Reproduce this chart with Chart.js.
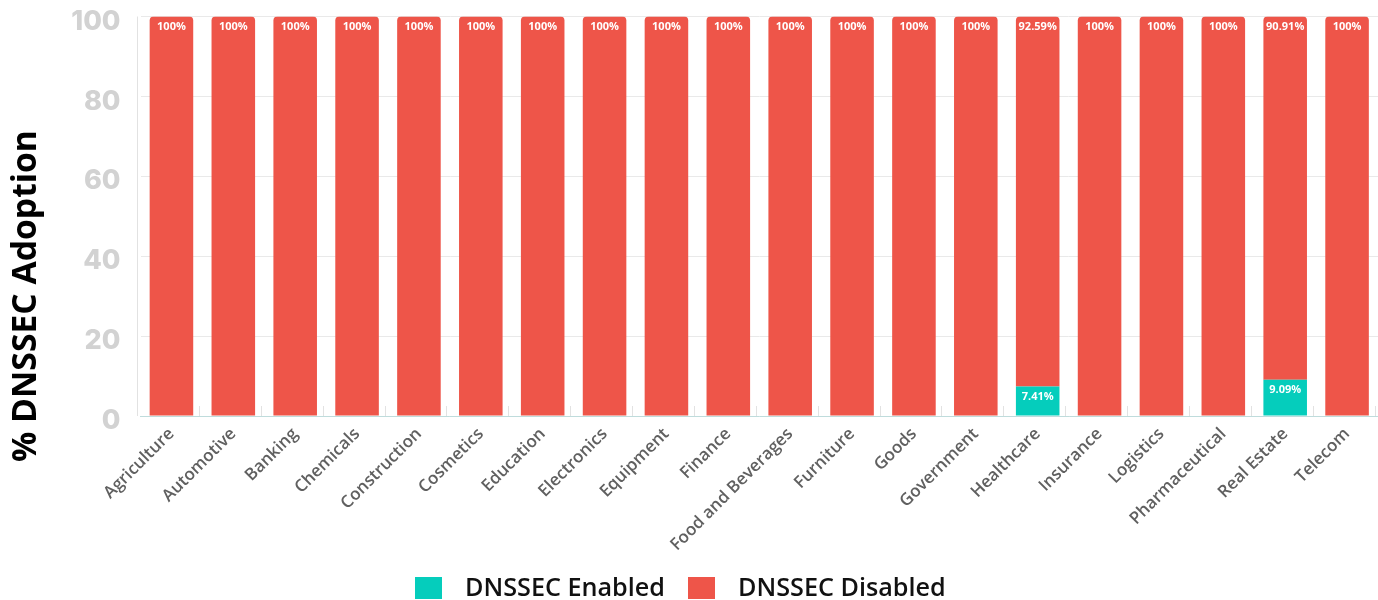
<!DOCTYPE html>
<html>
<head>
<meta charset="utf-8">
<script src="https://cdn.jsdelivr.net/npm/chart.js@4/dist/chart.umd.min.js"></script>
<style>
html,body{margin:0;padding:0;background:#fff;}
#wrap{width:1378px;height:600px;}
</style>
</head>
<body>
<div id="wrap"><canvas id="c" width="1378" height="600"></canvas></div>
<script>
const categories = ["Agriculture","Automotive","Banking","Chemicals","Construction","Cosmetics","Education","Electronics","Equipment","Finance","Food and Beverages","Furniture","Goods","Government","Healthcare","Insurance","Logistics","Pharmaceutical","Real Estate","Telecom"];
const enabledValues = [0,0,0,0,0,0,0,0,0,0,0,0,0,0,7.41,0,0,0,9.09,0];
const disabledValues = [100,100,100,100,100,100,100,100,100,100,100,100,100,100,92.59,100,100,100,90.91,100];
const yTicks = [0,20,40,60,80,100];
const seriesNames = ["DNSSEC Enabled","DNSSEC Disabled"];
const yTitle = "% DNSSEC Adoption";

const TEAL = "#05CDBC";
const RED = "#EE5549";

const decor = {
  id: "decor",
  beforeDatasetsDraw(chart) {
    const ctx = chart.ctx, a = chart.chartArea;
    const w = (a.right - a.left) / categories.length;
    ctx.save();
    ctx.strokeStyle = "#e2e2e2";
    ctx.lineWidth = 1;
    ctx.beginPath();
    const lx = Math.round(a.left - 3.5) + 0.5;
    ctx.moveTo(lx, a.top);
    ctx.lineTo(lx, a.bottom);
    for (let k = 1; k <= categories.length; k++) {
      const gx = Math.round(a.left - 3.5 + k * w) + 0.5;
      ctx.moveTo(gx, a.bottom - 10);
      ctx.lineTo(gx, a.bottom);
    }
    ctx.stroke();
    ctx.restore();
  },
  afterDatasetsDraw(chart) {
    const ctx = chart.ctx;
    ctx.save();
    ctx.fillStyle = "#ffffff";
    ctx.font = "700 11px 'Open Sans'";
    ctx.textAlign = "center";
    ctx.textBaseline = "middle";
    chart.data.datasets.forEach((ds, di) => {
      const meta = chart.getDatasetMeta(di);
      meta.data.forEach((el, i) => {
        const v = ds.data[i];
        if (v > 0) {
          ctx.fillText(v + "%", el.x, el.y + 10.5);
        }
      });
    });
    ctx.restore();
  },
  afterDraw(chart) {
    const ctx = chart.ctx;
    ctx.save();
    ctx.fillStyle = "#000";
    let fs = 30;
    ctx.font = "700 " + fs + "px 'Open Sans'";
    fs = fs * 332 / ctx.measureText(yTitle).width;
    ctx.font = "700 " + fs.toFixed(2) + "px 'Open Sans'";
    ctx.translate(26, 296);
    ctx.rotate(-Math.PI / 2);
    ctx.textAlign = "center";
    ctx.textBaseline = "middle";
    ctx.fillText(yTitle, 0, 0);
    ctx.restore();

    ctx.save();
    let ls = 22;
    ctx.font = "600 " + ls + "px 'Open Sans'";
    ls = ls * 200 / ctx.measureText(seriesNames[0]).width;
    ctx.font = "600 " + ls.toFixed(2) + "px 'Open Sans'";
    ctx.textBaseline = "middle";
    ctx.textAlign = "left";
    const items = [
      {box: 415, text: 465, color: TEAL, label: seriesNames[0]},
      {box: 688, text: 738, color: RED, label: seriesNames[1]}
    ];
    items.forEach(it => {
      ctx.fillStyle = it.color;
      ctx.fillRect(it.box, 577, 27, 22);
      ctx.fillStyle = "#111";
      ctx.fillText(it.label, it.text, 589);
    });
    ctx.restore();
  }
};

new Chart(document.getElementById("c"), {
  type: "bar",
  data: {
    labels: categories,
    datasets: [
      {
        label: seriesNames[0],
        data: enabledValues,
        backgroundColor: TEAL,
        borderWidth: 0,
        barPercentage: 0.88,
        categoryPercentage: 0.8
      },
      {
        label: seriesNames[1],
        data: disabledValues,
        backgroundColor: RED,
        borderWidth: 0,
        borderRadius: {topLeft: 4, topRight: 4, bottomLeft: 0, bottomRight: 0},
        borderSkipped: false,
        barPercentage: 0.88,
        categoryPercentage: 0.8
      }
    ]
  },
  options: {
    responsive: false,
    devicePixelRatio: 1,
    animation: false,
    layout: {padding: {top: 16.5, left: 0, right: 0, bottom: 0}},
    plugins: {legend: {display: false}, tooltip: {enabled: false}},
    scales: {
      x: {
        stacked: true,
        grid: {display: false},
        border: {display: true, color: "#bfdcdc", width: 1},
        ticks: {
          maxRotation: 45, minRotation: 45,
          autoSkip: false,
          color: "#606060",
          font: {family: "'Open Sans'", size: 17, weight: "600"},
          padding: 0
        },
        afterFit(s) { s.height = 184; s.paddingLeft = 0; s.paddingRight = 0; }
      },
      y: {
        stacked: true,
        min: 0, max: 100,
        afterBuildTicks(s) { s.ticks = yTicks.map(v => ({value: v})); },
        ticks: {
          color: "#d2d2d2",
          font: {family: "Inter", size: 27, weight: "800"},
          padding: 20,
          labelOffset: 5
        },
        grid: {color: "#e9e9e9", drawTicks: false},
        border: {display: false},
        afterFit(s) { s.width = 140.5; s.paddingTop = 0; s.paddingBottom = 0; }
      }
    }
  },
  plugins: [decor]
});
</script>
</body>
</html>
